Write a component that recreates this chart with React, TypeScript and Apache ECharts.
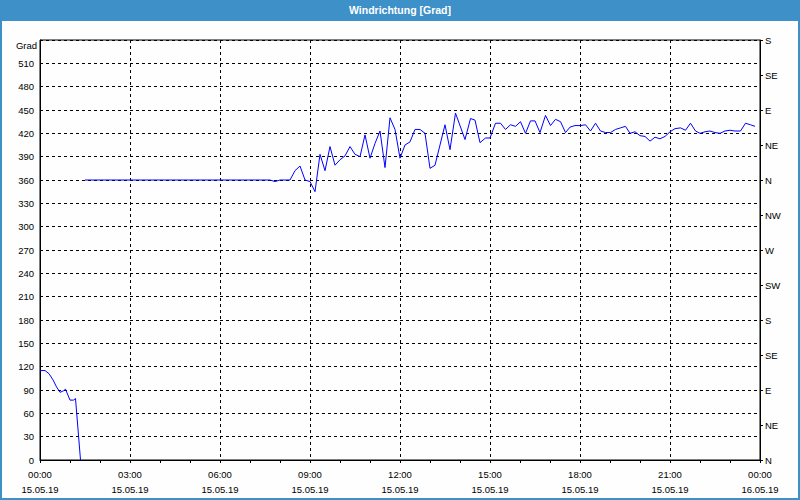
import React, { useEffect, useRef } from 'react';
import * as echarts from 'echarts';

const TITLE = 'Windrichtung [Grad]';
const Y_UNIT = 'Grad';
const X_TIMES = ['00:00', '03:00', '06:00', '09:00', '12:00', '15:00', '18:00', '21:00', '00:00'];
const X_DATES = ['15.05.19', '15.05.19', '15.05.19', '15.05.19', '15.05.19', '15.05.19', '15.05.19', '15.05.19', '16.05.19'];
const COMPASS = ['N', 'NE', 'E', 'SE', 'S', 'SW', 'W', 'NW', 'N', 'NE', 'E', 'SE', 'S'];

// minutes since 15.05.19 00:00
const earlyMinutes = [0, 10, 18, 26, 33, 40, 47, 51, 60, 67, 71, 81];
const earlyValues = [115, 115, 111, 103, 94, 87, 89, 91, 77, 77, 79, 0];

const mainMinutes = [
  90, 440, 450, 460, 470, 480, 490, 500, 510, 520, 530, 540, 550, 560, 570, 580, 590, 600, 610, 620,
  630, 640, 650, 660, 670, 680, 690, 700, 710, 720, 730, 740, 750, 760, 770, 780, 790, 810, 820, 831,
  850, 861, 870, 880, 891, 900, 911, 921, 931, 941, 951, 961, 971, 981, 990, 1000, 1011, 1021, 1031, 1041,
  1051, 1060, 1070, 1081, 1091, 1101, 1111, 1121, 1131, 1141, 1151, 1161, 1171, 1180, 1190, 1200, 1210, 1220, 1230, 1240,
  1250, 1260, 1270, 1281, 1291, 1301, 1311, 1320, 1330, 1340, 1350, 1360, 1370, 1380, 1390, 1401, 1411, 1421, 1430,
];
const mainValues = [
  360, 360, 360, 360, 358, 360, 360, 360, 372, 378, 360, 358, 345, 393, 372, 403, 379, 386, 391, 403,
  393, 390, 418, 388, 407, 423, 376, 440, 425, 388, 405, 409, 425, 425, 420, 375, 379, 431, 399, 446,
  412, 439, 437, 408, 414, 414, 433, 433, 425, 431, 429, 435, 420, 436, 436, 421, 443, 430, 438, 435,
  421, 428, 430, 430, 431, 423, 433, 423, 421, 421, 425, 427, 429, 420, 422, 417, 416, 410, 415, 413,
  416, 422, 426, 427, 424, 433, 423, 420, 422, 423, 421, 420, 423, 424, 423, 423, 433, 431, 429,
];

const FONT = 'Liberation Sans';

export default function App() {
  const ref = useRef<HTMLDivElement>(null);
  useEffect(() => {
    if (!ref.current) return;
    const chart = echarts.init(ref.current, undefined, { renderer: 'svg' });
    const early = earlyMinutes.map((m, i) => [m, earlyValues[i]]);
    const main = mainMinutes.map((m, i) => [m, mainValues[i]]);
    chart.setOption({
      animation: false,
      backgroundColor: '#fdfefd',
      textStyle: { fontFamily: FONT },
      grid: {
        left: 40, right: 40, top: 40, bottom: 40,
        show: true, borderColor: '#000', borderWidth: 1, backgroundColor: 'transparent',
      },
      graphic: [
        { type: 'rect', shape: { x: 1, y: 1, width: 798, height: 498 }, style: { fill: 'none', stroke: '#3d90c8', lineWidth: 2 }, silent: true },
        { type: 'rect', shape: { x: 0, y: 0, width: 800, height: 21 }, style: { fill: '#3d90c8' }, silent: true },
        {
          type: 'text', x: 400, y: 10,
          style: { text: TITLE, fill: '#fff', font: `bold 10.5px "${FONT}"`, textAlign: 'center', textVerticalAlign: 'middle' },
          silent: true,
        },
        {
          type: 'text', x: 37, y: 45,
          style: { text: Y_UNIT, fill: '#000', font: `9.5px "${FONT}"`, textAlign: 'right', textVerticalAlign: 'middle' },
          silent: true,
        },
      ],
      xAxis: {
        type: 'value', min: 0, max: 1440, interval: 180,
        axisLine: { show: true, lineStyle: { color: '#000', width: 1 } },
        axisTick: { show: true, length: 3, lineStyle: { color: '#000' } },
        minorTick: { show: true, splitNumber: 3, length: 3, lineStyle: { color: '#000' } },
        splitLine: { show: true, lineStyle: { color: '#000', type: [3, 3], width: 1 } },
        axisLabel: {
          showMinLabel: true, showMaxLabel: true, margin: 7,
          color: '#000', fontSize: 9.5, fontFamily: FONT, lineHeight: 15,
          formatter: (v: number) => {
            const i = Math.round(v / 180);
            return `${X_TIMES[i]}\n${X_DATES[i]}`;
          },
        },
      },
      yAxis: [
        {
          type: 'value', min: 0, max: 540, interval: 30, position: 'left',
          axisLine: { show: true, lineStyle: { color: '#000' } },
          axisTick: { show: false },
          splitLine: { show: true, lineStyle: { color: '#000', type: [3, 3], width: 1 } },
          axisLabel: {
            margin: 6, color: '#000', fontSize: 9.5, fontFamily: FONT,
            formatter: (v: number) => (v >= 540 ? '' : String(v)),
          },
        },
        {
          type: 'value', min: 0, max: 540, interval: 45, position: 'right',
          axisLine: { show: true, lineStyle: { color: '#000' } },
          axisTick: { show: true, length: 3, lineStyle: { color: '#000' } },
          splitLine: { show: false },
          axisLabel: {
            margin: 5, color: '#000', fontSize: 9.5, fontFamily: FONT,
            formatter: (v: number) => COMPASS[Math.round(v / 45)] ?? '',
          },
        },
      ],
      series: [
        {
          type: 'line', data: early, yAxisIndex: 0, showSymbol: false, symbol: 'none',
          lineStyle: { color: '#0000ff', width: 1 }, itemStyle: { color: '#0000ff' },
        },
        {
          type: 'line', data: main, yAxisIndex: 0, showSymbol: false, symbol: 'none',
          lineStyle: { color: '#0000ff', width: 1 }, itemStyle: { color: '#0000ff' },
        },
      ],
    });
    return () => chart.dispose();
  }, []);
  return (
    <div style={{ position: 'fixed', left: 0, top: 0, width: 800, height: 500 }}>
      <div ref={ref} style={{ width: 800, height: 500 }} />
    </div>
  );
}
